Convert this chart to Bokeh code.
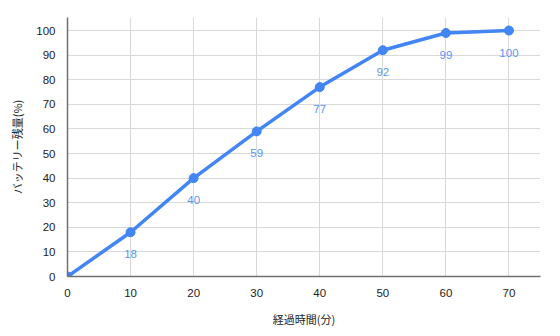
from bokeh.plotting import figure
from bokeh.models import ColumnDataSource, Range1d, FixedTicker, Text
from bokeh.core.properties import value
from bokeh.embed import file_html
from bokeh.resources import INLINE

minutes = [0, 10, 20, 30, 40, 50, 60, 70]
battery = [0, 18, 40, 59, 77, 92, 99, 100]
x_ticks = [0, 10, 20, 30, 40, 50, 60, 70]
y_ticks = [0, 10, 20, 30, 40, 50, 60, 70, 80, 90, 100]
x_title = "経過時間(分)"
y_title = "バッテリー残量(%)"

LINE = "#4285F4"
LABEL = "#5A94F5"
FONT = "Liberation Sans"

p = figure(width=560, height=336, output_backend="svg", toolbar_location=None,
           x_range=Range1d(0, 75), y_range=Range1d(0, 105.3),
           min_border_left=67, min_border_right=20, min_border_top=17, min_border_bottom=60)
p.outline_line_color = None
p.background_fill_color = "white"
p.border_fill_color = "white"

src = ColumnDataSource(dict(x=minutes, y=battery))
p.line("x", "y", source=src, line_color=LINE, line_width=3.5)
p.scatter("x", "y", source=src, size=9, fill_color=LINE, line_color=LINE)

lab = ColumnDataSource(dict(x=minutes[1:], y=battery[1:], t=[str(v) for v in battery[1:]]))
p.add_glyph(lab, Text(x="x", y="y", text="t", text_color=LABEL, text_font=value(FONT),
                      text_font_size="11.5px", text_align="center", text_baseline="middle",
                      y_offset=22))

for ax in (p.xaxis[0], p.yaxis[0]):
    ax.axis_line_color = "#6f6f6f"
    ax.axis_line_width = 1.5
    ax.major_tick_line_color = None
    ax.minor_tick_line_color = None
    ax.major_label_text_font = FONT
    ax.major_label_text_font_size = "11.5px"
    ax.major_label_text_color = "#222222"
    ax.axis_label_text_font = "Noto Sans CJK JP"
    ax.axis_label_text_font_size = "11px"
    ax.axis_label_text_font_style = "normal"
    ax.axis_label_text_color = "#222222"
    ax.major_label_standoff = 6

p.xaxis.ticker = FixedTicker(ticks=x_ticks)
p.yaxis.ticker = FixedTicker(ticks=y_ticks)
p.xaxis.axis_label = x_title
p.yaxis.axis_label = y_title
p.xaxis.axis_label_standoff = 11
p.yaxis.axis_label_standoff = 8

p.xgrid.grid_line_color = "#d9d9d9"
p.ygrid.grid_line_color = "#d9d9d9"
p.xgrid.grid_line_width = 1
p.ygrid.grid_line_width = 1

open("out.html", "w").write(file_html(p, INLINE))
